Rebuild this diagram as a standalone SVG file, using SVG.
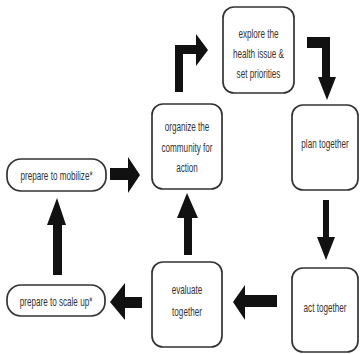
<svg xmlns="http://www.w3.org/2000/svg" width="360" height="354" viewBox="0 0 360 354">
<style>
.box{fill:#fff;stroke:#333;stroke-width:1.7}
.t{font-family:"Liberation Sans",Arial,sans-serif;font-size:12.5px;fill:#333;text-anchor:middle}
.arr{fill:#111}
</style>
<rect width="360" height="354" fill="#fff"/>
<g id="explore"><rect class="box" x="223" y="7" width="71" height="86" rx="11"/>
<g transform="matrix(0.65,0,0,1,258.5,0)"><text class="t" x="0" y="38">explore the</text><text class="t" x="0" y="58">health issue &amp;</text><text class="t" x="0" y="78">set priorities</text></g></g>
<g id="plan"><rect class="box" x="292" y="105" width="66" height="85" rx="11"/>
<g transform="matrix(0.65,0,0,1,325,0)"><text class="t" x="0" y="148">plan together</text></g></g>
<g id="act"><rect class="box" x="292" y="268" width="66" height="84" rx="11"/>
<g transform="matrix(0.65,0,0,1,325,0)"><text class="t" x="0" y="312">act together</text></g></g>
<g id="evaluate"><rect class="box" x="152" y="262" width="70" height="85" rx="11"/>
<g transform="matrix(0.65,0,0,1,187,0)"><text class="t" x="0" y="294">evaluate</text><text class="t" x="0" y="316">together</text></g></g>
<g id="organize"><rect class="box" x="152" y="104" width="70" height="85" rx="11"/>
<g transform="matrix(0.65,0,0,1,187,0)"><text class="t" x="0" y="131">organize the</text><text class="t" x="0" y="152">community for</text><text class="t" x="0" y="172">action</text></g></g>
<g id="mobilize"><rect class="box" x="7" y="159" width="99" height="32" rx="14"/>
<g transform="matrix(0.65,0,0,1,56.5,0)"><text class="t" x="0" y="180">prepare to mobilize*</text></g></g>
<g id="scaleup"><rect class="box" x="7" y="285" width="98" height="31" rx="14"/>
<g transform="matrix(0.65,0,0,1,56,0)"><text class="t" x="0" y="306">prepare to scale up*</text></g></g>
<g id="connectors">
<polygon class="arr" points="175,92 175,45 196,45 196,34 208,50 196,66 196,54 183,54 183,92"/>
<polygon class="arr" points="307,37 330,37 330,77 336,77 327,100 318,77 322,77 322,48 307,48"/>
<polygon class="arr" points="323,200 329,200 329,237 335,237 326,260 317,237 323,237"/>
<polygon class="arr" points="277,295 277,307 245,307 245,320 233,302 245,285 245,295"/>
<polygon class="arr" points="184,255 192,255 192,218 198,218 187,193 177,218 184,218"/>
<polygon class="arr" points="142,297 142,308 125,308 125,320 110,302 125,283 125,297"/>
<polygon class="arr" points="53,275 62,275 62,225 66,225 57,198 47,225 53,225"/>
<polygon class="arr" points="110,168 128,168 128,157 140,175 128,193 128,180 110,180"/>
</g>
</svg>
